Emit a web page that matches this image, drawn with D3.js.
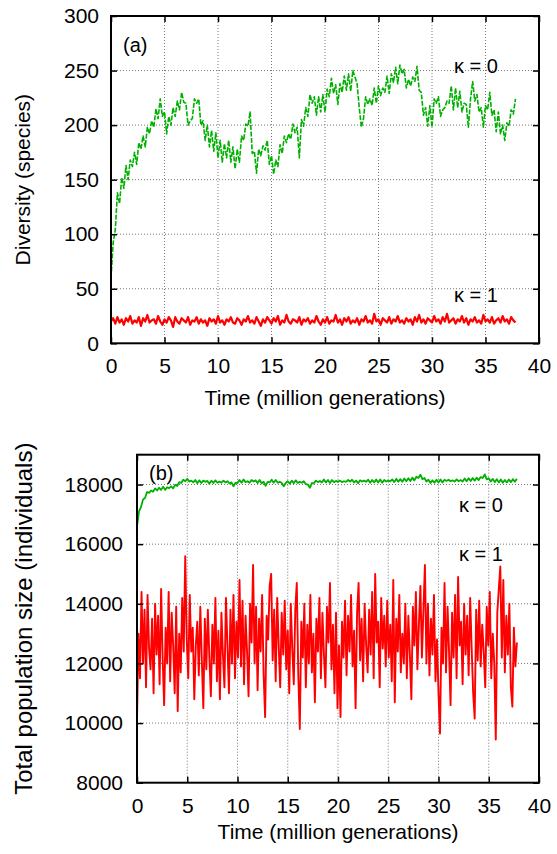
<!DOCTYPE html>
<html>
<head>
<meta charset="utf-8">
<script src="https://cdn.jsdelivr.net/npm/d3@7"></script>
<style>
body { margin: 0; background: #fff; }
text { font-family: "Liberation Sans", Arial, sans-serif; fill: #000; }
</style>
</head>
<body>
<svg id="chart" width="557" height="854"></svg>
<script>
// time axis (million generations)
const timeEnd = 37.8;
const timeTicks = [0, 5, 10, 15, 20, 25, 30, 35, 40];
const diversityTicks = [0, 50, 100, 150, 200, 250, 300];
const popTicks = [8000, 10000, 12000, 14000, 16000, 18000];

// (a) diversity, kappa = 0 (green), one value every 0.2
const diversityK0 = [
  60, 92, 104, 138, 128, 152, 142, 163, 150, 168,
  162, 175, 164, 184, 178, 190, 180, 198, 192, 204,
  198, 215, 206, 224, 208, 212, 192, 208, 200, 216,
  208, 222, 214, 230, 221, 220, 200, 204, 206, 224,
  220, 224, 200, 204, 186, 200, 180, 195, 176, 193,
  170, 186, 166, 183, 170, 186, 166, 180, 160, 178,
  166, 190, 186, 201, 199, 212, 174, 176, 156, 178,
  172, 181, 177, 186, 164, 172, 155, 168, 162, 182,
  174, 190, 184, 192, 187, 201, 193, 198, 170, 205,
  199, 216, 208, 228, 220, 226, 209, 226, 212, 228,
  212, 233, 226, 243, 229, 237, 219, 238, 230, 245,
  232, 247, 231, 250, 244, 238, 216, 198, 206, 226,
  219, 224, 218, 234, 220, 236, 227, 234, 230, 245,
  229, 247, 239, 253, 238, 255, 247, 251, 234, 242,
  236, 244, 240, 254, 232, 230, 209, 216, 199, 218,
  198, 224, 220, 226, 208, 214, 216, 222, 220, 236,
  214, 234, 216, 231, 212, 220, 219, 198, 224, 240,
  222, 228, 212, 216, 198, 218, 214, 230, 209, 214,
  194, 212, 192, 200, 186, 202, 199, 214, 210, 224
];

// (a) diversity, kappa = 1 (red)
const diversityK1 = [
  20, 23, 18, 24, 19, 22, 17, 23, 20, 25,
  18, 21, 19, 24, 16, 23, 20, 26, 19, 21,
  22, 18, 25, 20, 17, 22, 19, 24, 21, 15,
  24, 20, 18, 23, 21, 19, 24, 17, 21, 20,
  24, 18, 22, 19, 21, 16, 23, 20, 22, 18,
  25, 19, 21, 17, 22, 20, 24, 19, 18, 23,
  21, 17, 22, 20, 25, 19, 21, 18, 24, 20,
  16, 22, 19, 24, 21, 18, 23, 20, 25, 17,
  21, 19, 26, 20, 18, 22, 21, 19, 24, 17,
  22, 20, 23, 18, 21, 19, 25, 20, 17, 22,
  19, 24, 18, 21, 20, 26, 19, 22, 17, 23,
  20, 24, 18, 21, 19, 23, 17, 22, 20, 25,
  19, 21, 18, 27, 20, 22, 17, 23, 21, 19,
  24, 18, 22, 20, 25, 19, 21, 18, 23, 20,
  22, 17, 24, 20, 26, 19, 22, 18, 23, 21,
  19, 25, 20, 22, 18, 24, 20, 27, 19, 21,
  23, 18, 22, 20, 25, 19, 23, 17, 22, 20,
  24, 19, 21, 18, 26, 20, 22, 19, 24, 18,
  21, 23, 19, 25, 20, 22, 18, 24, 21, 19
];

// (b) total population, kappa = 0 (green)
const popK0 = [
  16600, 17100, 17250, 17500, 17550, 17750, 17720, 17800, 17760, 17870,
  17800, 17890, 17820, 17930, 17820, 17910, 17880, 17940, 17870, 17990,
  17950, 18080, 18050, 18160, 18110, 18190, 18100, 18130, 18070, 18150,
  18040, 18140, 18050, 18130, 18090, 18120, 18030, 18130, 18050, 18140,
  18060, 18100, 18060, 18130, 18070, 18110, 18040, 18070, 17940, 18060,
  18050, 18150, 18060, 18170, 18080, 18110, 18060, 18150, 18100, 18140,
  18050, 18150, 18040, 18090, 17960, 18090, 18070, 18160, 18060, 18150,
  18060, 18090, 18050, 17940, 18050, 18110, 18030, 18130, 18040, 18140,
  18050, 18090, 18060, 18110, 18010, 18000, 17890, 18050, 18040, 18130,
  18080, 18120, 18070, 18170, 18070, 18150, 18050, 18150, 18080, 18120,
  18090, 18130, 18080, 18110, 18090, 18150, 18100, 18160, 18070, 18130,
  18040, 18140, 18100, 18130, 18090, 18160, 18060, 18150, 18070, 18170,
  18070, 18170, 18060, 18150, 18100, 18130, 18110, 18170, 18080, 18190,
  18090, 18180, 18090, 18200, 18110, 18210, 18120, 18230, 18140, 18260,
  18220, 18330, 18180, 18220, 18100, 18160, 18050, 18140, 18060, 18160,
  18070, 18170, 18070, 18160, 18120, 18160, 18110, 18140, 18100, 18170,
  18110, 18150, 18100, 18200, 18110, 18210, 18120, 18220, 18130, 18230,
  18150, 18250, 18220, 18340, 18170, 18210, 18100, 18190, 18080, 18180,
  18070, 18170, 18060, 18150, 18070, 18170, 18080, 18180, 18090, 18190
];

// (b) total population, kappa = 1 (red), one value every 0.15
const popK1 = [
  10100, 13000, 11500, 14400, 12000, 13800, 11200, 14300, 12500, 11800,
  13500, 11000, 14000, 12300, 13600, 11300, 14500, 12200, 10600, 13200,
  12000, 14400, 11400, 13700, 12600, 11000, 13900, 10400, 13000, 11700,
  14200, 12400, 15600, 12800, 11500, 14300, 12400, 13200, 10800, 12600,
  13400, 11600, 13900, 12100, 10500, 13500, 11800, 13800, 12200, 10900,
  13300, 12000, 14200, 11400, 13100, 10800, 13700, 12300, 11200, 14200,
  12600, 11000, 13800, 12000, 14300, 11500, 13400, 12200, 14800, 11900,
  14100, 11300, 13600, 12400, 10900, 14000, 12700, 15300, 12000, 13900,
  11100, 13500, 12400, 14300, 11600, 10200, 13600, 12800, 14600, 15000,
  12100, 13800, 11400, 14200, 12600, 11200, 13700, 12300, 14100, 11800,
  13100, 11000, 14000, 12500, 11300, 13800, 14700, 11600, 9800, 13400,
  12200, 14000, 11200, 13300, 12000, 14300, 11700, 13000, 10700, 13500,
  12400, 14200, 11500, 13700, 12300, 11200, 13900, 12700, 14700, 11800,
  13300, 11000, 13700, 10500, 12600, 10200, 13400, 12200, 14100, 11600,
  13600, 12400, 14300, 11900, 13100, 10500, 13700, 14700, 12100, 13500,
  11400, 14000, 12600, 11700, 13800, 12300, 14400, 11500, 15000, 12700,
  13400, 11200, 14200, 12500, 13600, 11900, 14100, 12200, 13300, 11400,
  14800, 10700, 13500, 12400, 14300, 11700, 13000, 12000, 14000, 11500,
  13600, 12300, 10800, 13900, 12600, 14400, 11800, 13300, 14600, 12200,
  13800, 15300, 12000, 14000, 11600, 13500, 12300, 14300, 11400, 12800,
  11000, 9650, 13200, 12000, 14700, 11700, 13900, 12400, 10600, 13700,
  12200, 14300, 11500, 14900, 12600, 13400, 11300, 14000, 12300, 13600,
  11600, 14200, 12500, 11000, 10150, 13800, 12100, 14100, 11900, 13300,
  12400, 11200, 13900, 12600, 14400, 11500, 13000, 12000, 9450, 13700,
  14500, 15250, 12200, 14800, 11700, 13600, 12300, 14000, 11200, 10550,
  13200, 11900, 12700
];

const GREEN = "#00b000";
const RED = "#ff0000";
const FONT = 21;

const svg = d3.select("#chart");

function drawPanel(p) {
  const x = d3.scaleLinear().domain([0, 40]).range([p.left, p.right]);
  const y = d3.scaleLinear().domain(p.yDomain).range([p.bottom, p.top]);
  const g = svg.append("g");

  // dotted grid
  g.append("g").selectAll("line")
    .data(timeTicks.filter(t => t > 0 && t < 40))
    .join("line")
    .attr("x1", d => x(d)).attr("x2", d => x(d))
    .attr("y1", p.top).attr("y2", p.bottom)
    .attr("stroke", "#777").attr("stroke-width", 1)
    .attr("stroke-dasharray", "1,2");
  g.append("g").selectAll("line")
    .data(p.yTicks.filter(v => v > p.yDomain[0] && v < p.yDomain[1]))
    .join("line")
    .attr("x1", p.left).attr("x2", p.right)
    .attr("y1", d => y(d)).attr("y2", d => y(d))
    .attr("stroke", "#777").attr("stroke-width", 1)
    .attr("stroke-dasharray", "1,2");

  // series
  p.series.forEach(s => {
    const n = s.values.length;
    const line = d3.line()
      .x((d, i) => x(i * timeEnd / (n - 1)))
      .y(d => y(d));
    g.append("path")
      .datum(s.values)
      .attr("fill", "none")
      .attr("stroke", s.color)
      .attr("stroke-width", s.width)
      .attr("stroke-linejoin", "round")
      .attr("stroke-dasharray", s.dash || null)
      .attr("d", line);
  });

  // axes, ticks pointing inward
  g.append("g")
    .attr("transform", `translate(0,${p.bottom})`)
    .call(d3.axisBottom(x).tickValues(timeTicks).tickSize(-6).tickPadding(15));
  g.append("g")
    .attr("transform", `translate(0,${p.top})`)
    .call(d3.axisTop(x).tickValues(timeTicks).tickSize(-6).tickFormat(""));
  g.append("g")
    .attr("transform", `translate(${p.left},0)`)
    .call(d3.axisLeft(y).tickValues(p.yTicks).tickSize(-6)
      .tickPadding(p.labelPad).tickFormat(d3.format("d")));
  g.append("g")
    .attr("transform", `translate(${p.right},0)`)
    .call(d3.axisRight(y).tickValues(p.yTicks).tickSize(-6).tickFormat(""));

  g.selectAll(".domain").remove();
  g.selectAll(".tick line").attr("stroke", "#000").attr("stroke-width", 1.5);
  g.selectAll(".tick text")
    .attr("font-size", FONT)
    .attr("font-family", "Liberation Sans, Arial, sans-serif")
    .attr("fill", "#000");

  // border
  g.append("rect")
    .attr("x", p.left).attr("y", p.top)
    .attr("width", p.right - p.left).attr("height", p.bottom - p.top)
    .attr("fill", "none").attr("stroke", "#000").attr("stroke-width", 2);

  // titles
  g.append("text")
    .attr("x", (p.left + p.right) / 2).attr("y", p.xTitleY)
    .attr("text-anchor", "middle").attr("font-size", FONT)
    .text("Time (million generations)");
  g.append("text")
    .attr("transform", `translate(${p.yTitleX},${(p.top + p.bottom) / 2}) rotate(-90)`)
    .attr("text-anchor", "middle").attr("font-size", p.yTitleSize)
    .text(p.yTitle);

  p.notes.forEach(n => {
    g.append("text")
      .attr("x", n.x).attr("y", n.y)
      .attr("font-size", 20)
      .text(n.text);
  });
}

drawPanel({
  left: 111, right: 539, top: 16, bottom: 343.3,
  yDomain: [0, 300], yTicks: diversityTicks, labelPad: 12,
  xTitleY: 405, yTitleX: 30, yTitle: "Diversity (species)", yTitleSize: 21,
  series: [
    { values: diversityK0, color: GREEN, width: 1.6, dash: "5,1.5" },
    { values: diversityK1, color: RED, width: 2.2 }
  ],
  notes: [
    { text: "(a)", x: 123, y: 52 },
    { text: "\u03BA = 0", x: 454, y: 73 },
    { text: "\u03BA = 1", x: 454, y: 302 }
  ]
});

drawPanel({
  left: 137, right: 539, top: 454.7, bottom: 782.7,
  yDomain: [8000, 19000], yTicks: popTicks, labelPad: 14,
  xTitleY: 839, yTitleX: 32, yTitle: "Total population size (individuals)", yTitleSize: 24,
  series: [
    { values: popK0, color: GREEN, width: 1.8 },
    { values: popK1, color: RED, width: 1.9 }
  ],
  notes: [
    { text: "(b)", x: 149, y: 480 },
    { text: "\u03BA = 0", x: 459, y: 512 },
    { text: "\u03BA = 1", x: 459, y: 561 }
  ]
});
</script>
</body>
</html>
